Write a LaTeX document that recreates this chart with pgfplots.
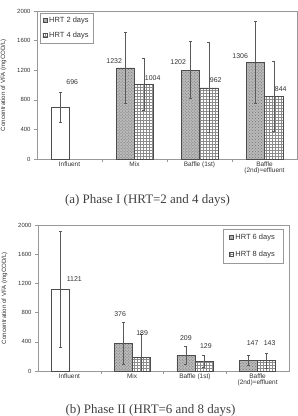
\documentclass[border=0pt]{standalone}
\usepackage{fontspec}
\setmainfont{Liberation Serif}
\setsansfont{Liberation Sans}
\usepackage{pgfplots}
\pgfplotsset{compat=1.18}
\usetikzlibrary{patterns}

\newcommand{\chartfont}[1]{\sffamily\fontsize{#1}{#1}\selectfont}

\pgfplotsset{
  vfa axis/.style={
    scale only axis, ybar,
    ymin=0, ymax=2000, ytick={0,400,...,2000},
    xmin=-0.5, xmax=3.5,
    xtick={0.5,1.5,2.5}, xticklabels={},
    extra x ticks={0,1,2,3},
    extra x tick labels={Influent,Mix,Baffle (1st),{Baffle\\(2nd)=effluent}},
    extra x tick style={major tick length=0pt,
      xticklabel style={align=center, font=\chartfont{6.5}, text=black!80, yshift=1bp}},
    tick pos=left, tick align=outside, major tick length=3bp,
    tick style={draw=gray!80, line width=0.5pt},
    axis line style={draw=gray!80, line width=0.6pt},
    /pgf/number format/assume math mode=true,
    /pgf/number format/1000 sep={},
    yticklabel style={font=\chartfont{6}, text=black!80},
    ylabel={Concentration of VFA (mgCOD/L)},
    ylabel style={font=\chartfont{6.2}, text=black!80},
    ylabel shift=4bp,
    error bars/error bar style={draw=black!65, line width=0.5pt},
    error bars/error mark options={rotate=90, mark size=1.5bp, draw=black!65, line width=0.5pt},
    legend style={draw=gray!80, line width=0.5pt, font=\chartfont{7.5}, text=black!80,
      inner xsep=2.5bp, inner ysep=2bp, row sep=4bp, cells={anchor=west}},
    legend image code/.code={\draw[#1] (0bp,-2bp) rectangle (4bp,2bp);},
  },
  vfa bars/.style={
    bar width=18.5bp, draw=black!70, line width=0.5pt,
    error bars/.cd, y dir=both, y explicit, /pgfplots/.cd,
    point meta=y,
    visualization depends on={value \thisrow{dx}\as\ldx},
    visualization depends on={value \thisrow{dy}\as\ldy},
    nodes near coords={\pgfmathprintnumber{\pgfplotspointmeta}},
    every node near coord/.append style={anchor=center, font=\chartfont{7}, text=black!80,
      xshift=\ldx bp, yshift=\ldy bp},
  },
  influent bar/.style={vfa bars, fill=white, bar shift=-9.25bp, forget plot},
  short bar/.style={vfa bars, fill=gray!55,
    postaction={pattern=crosshatch dots, pattern color=black!55}, bar shift=-9.25bp},
  long bar/.style={vfa bars, fill=white,
    postaction={pattern=grid, pattern color=gray!90}, bar shift=9.25bp},
}

\begin{document}
\begin{tikzpicture}
\useasboundingbox (0,0) rectangle (298bp,-416bp);

% Phase I: HRT 2 and 4 days
\begin{axis}[vfa axis, at={(37bp,-159bp)}, anchor=south west,
  width=260bp, height=148bp,
  legend style={at={(axis description cs:0,1)}, anchor=north west, xshift=3bp, yshift=-2bp}]
\addplot[influent bar] table[x=x, y=y, y error plus=ep, y error minus=em] {
x y ep em dx dy
0 696 200 205 12 25
};
\addplot[short bar] table[x=x, y=y, y error plus=ep, y error minus=em] {
x y ep em dx dy
1 1232 484 480 -11 7
2 1202 388 387 -12 8
3 1306 550 558 -15 6
};
\addplot[long bar] table[x=x, y=y, y error plus=ep, y error minus=em] {
x y ep em dx dy
1 1004 356 351 9 7
2 962 610 606 7 8
3 844 476 475 7 7.5
};
\legend{HRT 2 days, HRT 4 days}
\end{axis}

% Phase II: HRT 6 and 8 days
\begin{axis}[vfa axis, at={(38bp,-371bp)}, anchor=south west,
  width=251bp, height=146bp,
  legend style={at={(axis description cs:1,1)}, anchor=north east, xshift=-6bp, yshift=-4bp,
    row sep=6bp, inner xsep=6bp, inner ysep=3bp}]
\addplot[influent bar, bar width=18bp, bar shift=-9bp] table[x=x, y=y, y error plus=ep, y error minus=em] {
x y ep em dx dy
0 1121 800 791 14 10
};
\addplot[short bar, bar width=18bp, bar shift=-9bp] table[x=x, y=y, y error plus=ep, y error minus=em] {
x y ep em dx dy
1 376 288 284 -3 29.5
2 209 130 122 0 17.5
3 147 73 74 4 17
};
\addplot[long bar, bar width=18bp, bar shift=9bp] table[x=x, y=y, y error plus=ep, y error minus=em] {
x y ep em dx dy
1 189 310 189 1 24
2 129 86 83 2 15
3 143 104 102 3 17
};
\legend{HRT 6 days, HRT 8 days}
\end{axis}

\node[font=\fontsize{13}{13}\selectfont, text=black!75] at (147.5bp,-200bp) {(a) Phase I (HRT=2 and 4 days)};
\node[font=\fontsize{13}{13}\selectfont, text=black!75] at (150.5bp,-410bp) {(b) Phase II (HRT=6 and 8 days)};
\end{tikzpicture}
\end{document}
